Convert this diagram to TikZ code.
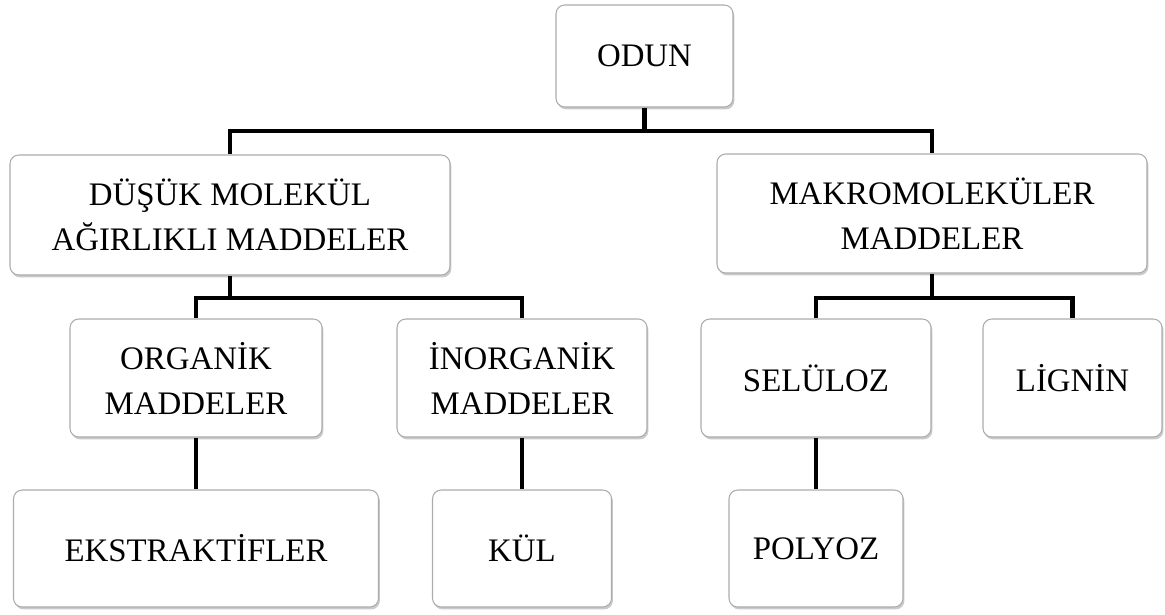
\documentclass[tikz,border=0pt]{standalone}
\usepackage{fontspec}
\setmainfont{Liberation Serif}
\usepackage{tikz}
\usetikzlibrary{positioning, shadows}

\begin{document}
\begin{tikzpicture}[
      box/.style={draw=gray!65, line width=0.6pt, rounded corners=5pt, fill=white,
        align=center, inner sep=0pt, font=\fontsize{18.7}{25.6}\selectfont,
        drop shadow={shadow xshift=0.8pt, shadow yshift=-1.4pt, fill=black!35, opacity=0.6}},
      link/.style={line width=2.8pt, line join=miter}
    ]
      \useasboundingbox (0,0) rectangle (23.3,-12.3);

      % Level 0
      \node[box, minimum width=3.54cm, minimum height=2.04cm] (odun) at (12.89,-1.12) {ODUN};

      % Level 1
      \node[box, minimum width=8.8cm, minimum height=2.4cm] (dusuk) at (4.6,-4.3)
        {DÜŞÜK MOLEKÜL\\AĞIRLIKLI MADDELER};
      \node[box, minimum width=8.6cm, minimum height=2.38cm] (makro) at (18.64,-4.27)
        {MAKROMOLEKÜLER\\MADDELER};

      % Level 2
      \node[box, minimum width=5.04cm, minimum height=2.36cm] (organik) at (3.92,-7.56)
        {ORGANİK\\MADDELER};
      \node[box, minimum width=5.0cm, minimum height=2.36cm] (inorganik) at (10.44,-7.56)
        {İNORGANİK\\MADDELER};
      \node[box, minimum width=4.6cm, minimum height=2.36cm] (seluloz) at (16.32,-7.56) {SELÜLOZ};
      \node[box, minimum width=3.58cm, minimum height=2.36cm] (lignin) at (21.45,-7.56) {LİGNİN};

      % Level 3
      \node[box, minimum width=7.3cm, minimum height=2.34cm] (ekstraktif) at (3.92,-10.97) {EKSTRAKTİFLER};
      \node[box, minimum width=3.58cm, minimum height=2.34cm] (kul) at (10.44,-10.97) {KÜL};
      \node[box, minimum width=3.48cm, minimum height=2.34cm] (polyoz) at (16.32,-10.97) {POLYOZ};

      % Connectors
      \coordinate (j0) at (12.89,-2.62);
      \coordinate (j1) at (4.6,-5.96);
      \coordinate (j2) at (18.64,-5.96);
      \draw[link] (odun.south) -- (j0);
      \draw[link] (dusuk.north) |- (j0) -| (makro.north);
      \draw[link] (dusuk.south) -- (j1);
      \draw[link] (organik.north) |- (j1) -| (inorganik.north);
      \draw[link] (makro.south) -- (j2);
      \draw[link] (seluloz.north) |- (j2) -| (lignin.north);
      \draw[link] (organik.south) -- (ekstraktif.north);
      \draw[link] (inorganik.south) -- (kul.north);
      \draw[link] (seluloz.south) -- (polyoz.north);
    \end{tikzpicture}
\end{document}
